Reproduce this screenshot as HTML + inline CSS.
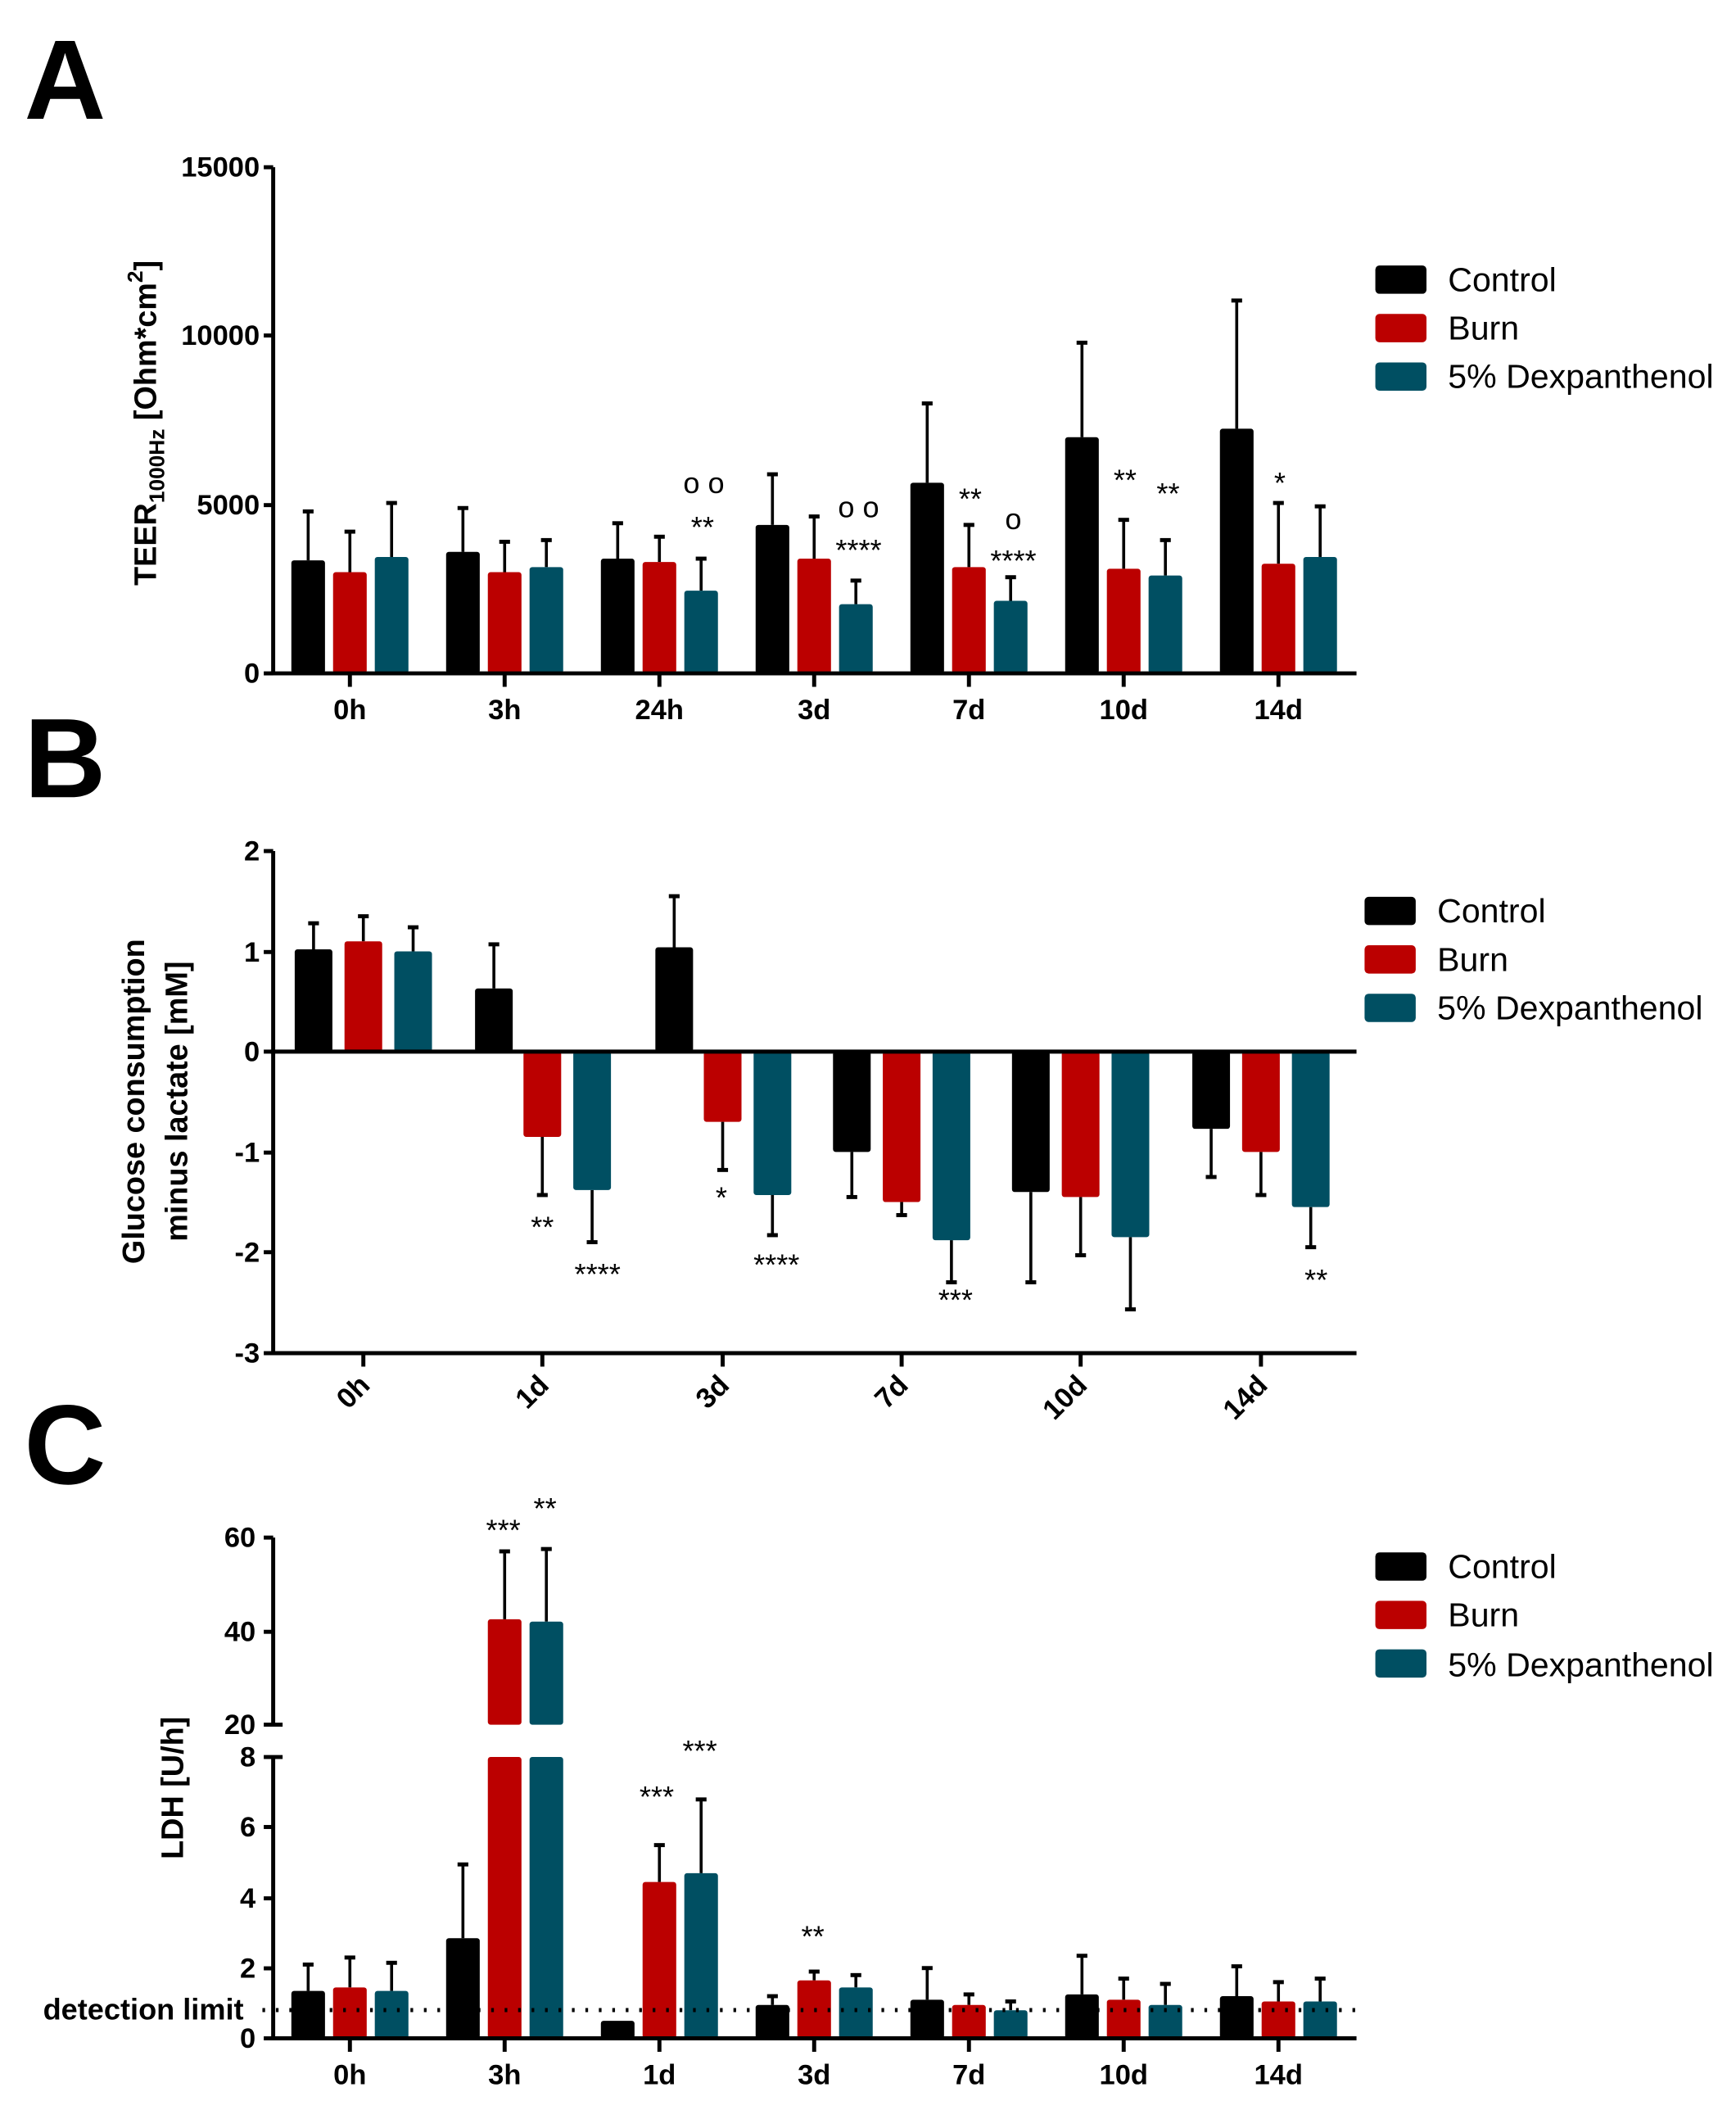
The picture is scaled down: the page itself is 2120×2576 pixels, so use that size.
<!DOCTYPE html>
<html><head><meta charset="utf-8">
<style>
html,body{margin:0;padding:0;background:#fff;}
svg{display:block;}
.t{font-family:"Liberation Sans Narrow","Liberation Sans",sans-serif;font-weight:bold;font-size:21px;fill:#000;font-stretch:condensed;}
.lg{font-family:"Liberation Sans Narrow","Liberation Sans",sans-serif;font-size:25px;fill:#000;}
.ti{font-family:"Liberation Sans",sans-serif;font-weight:bold;font-size:23px;fill:#000;}
.big{font-family:"Liberation Sans",sans-serif;font-weight:bold;font-size:84px;fill:#000;}
.st{font-family:"Liberation Sans",sans-serif;font-size:22px;fill:#000;}
</style></head>
<body>
<svg id="s" width="2120" height="2576" viewBox="0 0 1290 1567" xmlns="http://www.w3.org/2000/svg">
<rect width="1290" height="1567" fill="#fff"/>
<g id="bars"></g>
<text class="big" x="18" y="88">A</text>
<text class="big" x="18" y="592">B</text>
<text class="big" x="18" y="1102">C</text>

<g stroke="#000" stroke-width="3" fill="none">
<line x1="203" y1="124" x2="203" y2="501"/>
<line x1="201" y1="500" x2="1008" y2="500"/>
<line x1="196" y1="124" x2="203" y2="124"/><line x1="196" y1="249" x2="203" y2="249"/><line x1="196" y1="375" x2="203" y2="375"/><line x1="196" y1="500" x2="203" y2="500"/>
<line x1="260" y1="500" x2="260" y2="510"/><line x1="375" y1="500" x2="375" y2="510"/><line x1="490" y1="500" x2="490" y2="510"/><line x1="605" y1="500" x2="605" y2="510"/><line x1="720" y1="500" x2="720" y2="510"/><line x1="835" y1="500" x2="835" y2="510"/><line x1="950" y1="500" x2="950" y2="510"/>
</g>
<g class="t" text-anchor="end">
<text x="193" y="131">15000</text><text x="193" y="256">10000</text><text x="193" y="382">5000</text><text x="193" y="507">0</text>
</g>
<g class="t" text-anchor="middle" font-size="22">
<text x="260" y="534">0h</text><text x="375" y="534">3h</text><text x="490" y="534">24h</text><text x="605" y="534">3d</text><text x="720" y="534">7d</text><text x="835" y="534">10d</text><text x="950" y="534">14d</text>
</g>
<text class="ti" font-size="25" transform="translate(116,314) rotate(-90)" text-anchor="middle">TEER<tspan font-size="16" dy="6">1000Hz</tspan><tspan dy="-6"> [Ohm*cm</tspan><tspan font-size="16" dy="-10">2</tspan><tspan dy="10">]</tspan></text>
<g class="st" text-anchor="middle">
<text x="523" y="366">o o</text><text x="522" y="399">**</text>
<text x="638" y="384">o o</text><text x="638" y="416">****</text>
<text x="721" y="378">**</text>
<text x="753" y="393">o</text><text x="753" y="424">****</text>
<text x="836" y="364">**</text><text x="868" y="374">**</text>
<text x="951" y="366">*</text>
</g>

<g stroke="#000" stroke-width="3" fill="none">
<line x1="203" y1="632" x2="203" y2="1006"/>
<line x1="201" y1="781" x2="1008" y2="781"/>
<line x1="201" y1="1005" x2="1008" y2="1005"/>
<line x1="196" y1="632" x2="203" y2="632"/><line x1="196" y1="707" x2="203" y2="707"/><line x1="196" y1="781" x2="203" y2="781"/><line x1="196" y1="856" x2="203" y2="856"/><line x1="196" y1="930" x2="203" y2="930"/><line x1="196" y1="1005" x2="203" y2="1005"/>
<line x1="270" y1="1005" x2="270" y2="1015"/><line x1="403" y1="1005" x2="403" y2="1015"/><line x1="537" y1="1005" x2="537" y2="1015"/><line x1="670" y1="1005" x2="670" y2="1015"/><line x1="803" y1="1005" x2="803" y2="1015"/><line x1="937" y1="1005" x2="937" y2="1015"/>
</g>
<g class="t" text-anchor="end">
<text x="193" y="639">2</text><text x="193" y="714">1</text><text x="193" y="788">0</text><text x="193" y="863">-1</text><text x="193" y="937">-2</text><text x="193" y="1012">-3</text>
</g>
<g class="t" text-anchor="end" font-size="22">
<text transform="translate(276,1030) rotate(-45)">0h</text>
<text transform="translate(409,1030) rotate(-45)">1d</text>
<text transform="translate(543,1030) rotate(-45)">3d</text>
<text transform="translate(676,1030) rotate(-45)">7d</text>
<text transform="translate(809,1030) rotate(-45)">10d</text>
<text transform="translate(943,1030) rotate(-45)">14d</text>
</g>
<text class="ti" transform="translate(107,818) rotate(-90)" text-anchor="middle">Glucose consumption</text>
<text class="ti" transform="translate(139,818) rotate(-90)" text-anchor="middle">minus lactate [mM]</text>
<g class="st" text-anchor="middle">
<text x="403" y="919">**</text><text x="444" y="954">****</text>
<text x="536" y="897">*</text><text x="577" y="947">****</text>
<text x="710" y="973">***</text><text x="978" y="958">**</text>
</g>

<g stroke="#000" stroke-width="3" fill="none">
<line x1="203" y1="1142" x2="203" y2="1282"/>
<line x1="203" y1="1304" x2="203" y2="1515"/>
<line x1="201" y1="1514" x2="1008" y2="1514"/>
<line x1="196" y1="1142" x2="203" y2="1142"/><line x1="196" y1="1212" x2="203" y2="1212"/><line x1="196" y1="1281" x2="210" y2="1281"/>
<line x1="196" y1="1305" x2="210" y2="1305"/><line x1="196" y1="1357" x2="203" y2="1357"/><line x1="196" y1="1410" x2="203" y2="1410"/><line x1="196" y1="1462" x2="203" y2="1462"/><line x1="196" y1="1514" x2="203" y2="1514"/>
<line x1="260" y1="1514" x2="260" y2="1524"/><line x1="375" y1="1514" x2="375" y2="1524"/><line x1="490" y1="1514" x2="490" y2="1524"/><line x1="605" y1="1514" x2="605" y2="1524"/><line x1="720" y1="1514" x2="720" y2="1524"/><line x1="835" y1="1514" x2="835" y2="1524"/><line x1="950" y1="1514" x2="950" y2="1524"/>
</g>
<g class="t" text-anchor="end">
<text x="190" y="1149">60</text><text x="190" y="1219">40</text><text x="190" y="1288">20</text>
<text x="190" y="1312">8</text><text x="190" y="1364">6</text><text x="190" y="1417">4</text><text x="190" y="1469">2</text><text x="190" y="1521">0</text>
</g>
<g class="t" text-anchor="middle" font-size="22">
<text x="260" y="1548">0h</text><text x="375" y="1548">3h</text><text x="490" y="1548">1d</text><text x="605" y="1548">3d</text><text x="720" y="1548">7d</text><text x="835" y="1548">10d</text><text x="950" y="1548">14d</text>
</g>
<text class="ti" font-size="24" transform="translate(136,1328) rotate(-90)" text-anchor="middle">LDH [U/h]</text>
<text x="32" y="1500" font-family="Liberation Sans Narrow, Liberation Sans, sans-serif" font-size="22" font-weight="bold" fill="#000">detection limit</text>
<g class="st" text-anchor="middle">
<text x="374" y="1144">***</text><text x="405" y="1128">**</text>
<text x="488" y="1342">***</text><text x="520" y="1308">***</text>
<text x="604" y="1446">**</text>
</g>

<g id="legends"></g>
<g class="lg">
<text x="1076" y="216">Control</text><text x="1076" y="252">Burn</text><text x="1076" y="288">5% Dexpanthenol</text>
<text x="1068" y="685">Control</text><text x="1068" y="721">Burn</text><text x="1068" y="757">5% Dexpanthenol</text>
<text x="1076" y="1172">Control</text><text x="1076" y="1208">Burn</text><text x="1076" y="1245">5% Dexpanthenol</text>
</g>
</svg>
<script>
var C=["#000000","#bb0000","#004f62"];
var ns="http://www.w3.org/2000/svg",G=document.getElementById("bars"),L=document.getElementById("legends");
function el(t,a,p){var e=document.createElementNS(ns,t);for(var k in a)e.setAttribute(k,a[k]);(p||G).appendChild(e);return e;}
function bar(x,w,y0,y1,c){el("rect",{x:x-w/2,y:Math.min(y0,y1),width:w,height:Math.abs(y1-y0),fill:c,rx:2});}
function err(x,y0,y1){el("line",{x1:x,y1:y0,x2:x,y2:y1,stroke:"#000","stroke-width":2.2});el("line",{x1:x-4,y1:y1,x2:x+4,y2:y1,stroke:"#000","stroke-width":3});}
var A=[[[3350,4800],[3600,4900],[3400,4450],[4400,5900],[5650,8000],[7000,9800],[7250,11050]],
[[3000,4200],[3000,3900],[3300,4050],[3400,4650],[3150,4400],[3100,4550],[3250,5050]],
[[3450,5050],[3150,3950],[2450,3400],[2050,2750],[2150,2850],[2900,3950],[3450,4950]]];
function ya(v){return 500-v*376/15000;}
for(var s=0;s<3;s++)for(var g=0;g<7;g++){var cx=260+115*g+(s-1)*31;var d=A[s][g];err(cx,ya(d[0]),ya(d[1]));bar(cx,25,500,ya(d[0]),C[s]);}
var B=[[[1.02,1.28],[0.63,1.07],[1.04,1.55],[-1.0,-1.45],[-1.4,-2.3],[-0.77,-1.25]],
[[1.1,1.35],[-0.85,-1.43],[-0.7,-1.18],[-1.5,-1.63],[-1.45,-2.03],[-1.0,-1.43]],
[[1.0,1.24],[-1.38,-1.9],[-1.43,-1.83],[-1.88,-2.3],[-1.85,-2.57],[-1.55,-1.95]]];
function yb(v){return 781-v*74.5;}
for(var s=0;s<3;s++)for(var g=0;g<6;g++){var d=B[s][g];var cx=[270,403,537,670,803,937][g]+(s-1)*37;
 if(g==1&&s==0){cx=367;} if(g==2&&s==0){cx=501;}
 err(cx,yb(d[0]),yb(d[1]));bar(cx,28,781,yb(d[0]),C[s]);}
var Cd=[[[1.35,2.1],[2.85,4.95],[0.5,0.5],[0.95,1.2],[1.1,2.0],[1.25,2.35],[1.2,2.05]],
[[1.45,2.3],[42.5,57],[4.45,5.5],[1.65,1.9],[0.95,1.25],[1.1,1.7],[1.05,1.6]],
[[1.35,2.15],[42,57.5],[4.7,6.8],[1.45,1.8],[0.8,1.05],[0.95,1.55],[1.05,1.7]]];
function yc(v){return v<=8?1514-v*26.1:1281-(v-20)*3.48;}
for(var s=0;s<3;s++)for(var g=0;g<7;g++){var cx=260+115*g+(s-1)*31;var d=Cd[s][g];
 if(d[0]>20){err(cx,yc(d[0]),yc(d[1]));bar(cx,25,1514,1305,C[s]);bar(cx,25,1281,yc(d[0]),C[s]);}
 else{if(d[1]>d[0])err(cx,yc(d[0]),yc(d[1]));bar(cx,25,1514,yc(d[0]),C[s]);}}
el("line",{x1:195,y1:1493,x2:1008,y2:1493,stroke:"#000","stroke-width":3,"stroke-dasharray":"2 8"});
[[1022,197],[1014,666],[1022,1153]].forEach(function(p){for(var i=0;i<3;i++)el("rect",{x:p[0],y:p[1]+36*i,width:38,height:21,rx:3,fill:C[i]},L);});
</script>
</body></html>
